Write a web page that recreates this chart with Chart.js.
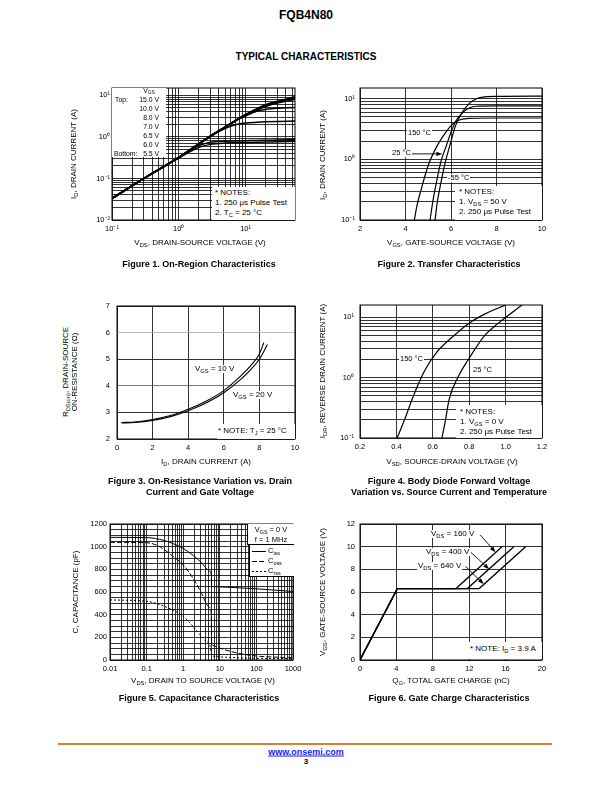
<!DOCTYPE html>
<html>
<head>
<meta charset="utf-8">
<script src="https://cdn.jsdelivr.net/npm/chart.js@4.4.0/dist/chart.umd.min.js"></script>
<style>
body { margin: 0; width: 612px; height: 792px; position: relative; background: #fff; color: #000;
       font-family: "Liberation Sans", Arial, Helvetica, sans-serif; overflow: hidden; }
canvas { position: absolute; }
.t { position: absolute; white-space: nowrap; font-size: 7.5px; line-height: 1; transform: translate(-50%, -50%); }
.ax { font-size: 8px; }
.l { transform: translate(0, -50%); }
.rr { transform: translate(-100%, -50%); }
.rot { transform: translate(-50%, -50%) rotate(-90deg); }
.b { font-weight: bold; }
.cap { font-weight: bold; font-size: 9px; text-align: center; line-height: 11px; }
.w { background: #fff; padding: 0 1px; }
.box { position: absolute; background: #fff; }
.sm { font-size: 6.8px; }
sub { font-size: 72%; vertical-align: -0.3em; line-height: 0; }
.seg { position: absolute; height: 1px; width: 14px; }
</style>
</head>
<body>
<canvas id="fig1"></canvas>
<canvas id="fig2"></canvas>
<canvas id="fig3"></canvas>
<canvas id="fig4"></canvas>
<canvas id="fig5"></canvas>
<canvas id="fig6"></canvas>

<!-- page header -->
<div class="t b" style="left:306px;top:15px;font-size:12px">FQB4N80</div>
<div class="t b" style="left:306px;top:57px;font-size:10px">TYPICAL CHARACTERISTICS</div>

<!-- figure 1 -->
<div class="box" style="left:112px;top:88px;width:54px;height:69px"></div>
<div class="t sm" style="left:149px;top:91px">V<sub>GS</sub></div>
<div class="t l sm" style="left:115px;top:100px">Top:</div>
<div class="t rr sm" style="left:159px;top:100px">15.0 V</div>
<div class="t rr sm" style="left:159px;top:109px">10.0 V</div>
<div class="t rr sm" style="left:159px;top:117.5px">8.0 V</div>
<div class="t rr sm" style="left:159px;top:126.5px">7.0 V</div>
<div class="t rr sm" style="left:159px;top:135.5px">6.5 V</div>
<div class="t rr sm" style="left:159px;top:144.5px">6.0 V</div>
<div class="t l sm" style="left:114px;top:153.5px">Bottom:</div>
<div class="t rr sm" style="left:159px;top:153.5px">5.5 V</div>
<div class="box" style="left:212px;top:187px;width:83px;height:33px"></div>
<div class="t l ax" style="left:215px;top:193px">* NOTES:</div>
<div class="t l ax" style="left:215px;top:203px">1. 250 μs Pulse Test</div>
<div class="t l ax" style="left:215px;top:213px">2. T<sub>C</sub> = 25 °C</div>
<div class="t rot ax" style="left:74px;top:154px">I<sub>D</sub>, DRAIN CURRENT (A)</div>
<div class="t ax" style="left:200px;top:243px">V<sub>DS</sub>, DRAIN-SOURCE VOLTAGE (V)</div>
<div class="t cap" style="left:199px;top:264px">Figure 1. On-Region Characteristics</div>

<!-- figure 2 -->
<div class="t l w" style="left:407px;top:133px">150 °C</div>
<div class="t l w" style="left:391px;top:153px">25 °C</div>
<div class="t l w" style="left:447px;top:178px">-55 °C</div>
<div class="box" style="left:455px;top:186px;width:87px;height:34px"></div>
<div class="t l ax" style="left:459px;top:192px">* NOTES:</div>
<div class="t l ax" style="left:459px;top:202px">1. V<sub>DS</sub> = 50 V</div>
<div class="t l ax" style="left:459px;top:212px">2. 250 μs Pulse Test</div>
<div class="t rot ax" style="left:323px;top:155px">I<sub>D</sub>, DRAIN CURRENT (A)</div>
<div class="t ax" style="left:451px;top:243px">V<sub>GS</sub>, GATE-SOURCE VOLTAGE (V)</div>
<div class="t cap" style="left:449px;top:264px">Figure 2. Transfer Characteristics</div>

<!-- figure 3 -->
<div class="t l w ax" style="left:194px;top:369px">V<sub>GS</sub> = 10 V</div>
<div class="t l w ax" style="left:232px;top:395px">V<sub>GS</sub> = 20 V</div>
<div class="box" style="left:217px;top:424px;width:78px;height:15px"></div>
<div class="t l ax" style="left:218px;top:431px">* NOTE: T<sub>J</sub> = 25 °C</div>
<div class="t rot ax" style="left:66px;top:372px">R<sub>DS(on)</sub>, DRAIN-SOURCE</div>
<div class="t rot ax" style="left:75px;top:372px">ON-RESISTANCE (Ω)</div>
<div class="t ax" style="left:206px;top:462px">I<sub>D</sub>, DRAIN CURRENT (A)</div>
<div class="t cap" style="left:200px;top:487px">Figure 3. On-Resistance Variation vs. Drain<br>Current and Gate Voltage</div>

<!-- figure 4 -->
<div class="t l w" style="left:399px;top:359px">150 °C</div>
<div class="t l w" style="left:472px;top:370px">25 °C</div>
<div class="box" style="left:456px;top:405px;width:86px;height:33px"></div>
<div class="t l ax" style="left:460px;top:412px">* NOTES:</div>
<div class="t l ax" style="left:460px;top:422px">1. V<sub>GS</sub> = 0 V</div>
<div class="t l ax" style="left:460px;top:432px">2. 250 μs Pulse Test</div>
<div class="t rot ax" style="left:323px;top:371px">I<sub>DR</sub>, REVERSE DRAIN CURRENT (A)</div>
<div class="t ax" style="left:452px;top:462px">V<sub>SD</sub>, SOURCE-DRAIN VOLTAGE (V)</div>
<div class="t cap" style="left:449px;top:487px">Figure 4. Body Diode Forward Voltage<br>Variation vs. Source Current and Temperature</div>

<!-- figure 5 -->
<div class="box" style="left:247px;top:524px;width:46px;height:20px;border-left:0.8px solid #000;border-bottom:0.8px solid #000"></div>
<div class="t" style="left:271px;top:530px">V<sub>GS</sub> = 0 V</div>
<div class="t" style="left:271px;top:540px">f = 1 MHz</div>
<div class="box" style="left:249px;top:545px;width:44px;height:31px;border-left:0.8px solid #000;border-bottom:0.8px solid #000"></div>
<div class="seg" style="left:252px;top:551px;background:#000"></div>
<div class="seg" style="left:252px;top:561px;background:repeating-linear-gradient(90deg,#000 0 5px,transparent 5px 7px)"></div>
<div class="seg" style="left:252px;top:571px;background:repeating-linear-gradient(90deg,#000 0 2px,transparent 2px 4px)"></div>
<div class="t l" style="left:268px;top:551px">C<sub>iss</sub></div>
<div class="t l" style="left:268px;top:561px">C<sub>oss</sub></div>
<div class="t l" style="left:268px;top:571px">C<sub>rss</sub></div>
<div class="t rot ax" style="left:76px;top:592px">C, CAPACITANCE (pF)</div>
<div class="t ax" style="left:203px;top:681px">V<sub>DS</sub>, DRAIN TO SOURCE VOLTAGE (V)</div>
<div class="t cap" style="left:199px;top:698px">Figure 5. Capacitance Characteristics</div>

<!-- figure 6 -->
<div class="t l w ax" style="left:430px;top:533.5px">V<sub>DS</sub> = 160 V</div>
<div class="t l w ax" style="left:425px;top:552px">V<sub>DS</sub> = 400 V</div>
<div class="t l w ax" style="left:417px;top:566px">V<sub>DS</sub> = 640 V</div>
<div class="box" style="left:466px;top:642px;width:76px;height:17px"></div>
<div class="t l ax" style="left:470px;top:649px">* NOTE: I<sub>D</sub> = 3.9 A</div>
<div class="t rot ax" style="left:323px;top:592px">V<sub>GS</sub>, GATE-SOURCE VOLTAGE (V)</div>
<div class="t ax" style="left:451px;top:681px">Q<sub>G</sub>, TOTAL GATE CHARGE (nC)</div>
<div class="t cap" style="left:449px;top:698px">Figure 6. Gate Charge Characteristics</div>

<!-- footer -->
<div style="position:absolute;left:58px;top:743px;width:494px;height:2px;background:#d9822b"></div>
<div class="t b" style="left:306px;top:752px;font-size:9px;color:#1a1aff;text-decoration:underline">www.onsemi.com</div>
<div class="t b" style="left:306px;top:762px;font-size:8px">3</div>

<script>
// Figure 1 - on-region characteristics, ID vs VDS for each VGS
const f1Vds   = [0.1, 0.3, 1, 2, 3, 5, 7, 10, 15, 20, 30, 55];
const f1Id15  = [0.033, 0.1, 0.32, 0.68, 1.05, 1.75, 2.45, 3.45, 4.8, 5.9, 7.2, 9.2];
const f1Id10  = [0.033, 0.1, 0.32, 0.68, 1.05, 1.75, 2.45, 3.4, 4.7, 5.7, 6.9, 8.7];
const f1Id8   = [0.033, 0.1, 0.32, 0.68, 1.05, 1.75, 2.4, 3.3, 4.5, 5.4, 6.5, 8.0];
const f1Id7   = [0.033, 0.1, 0.32, 0.68, 1.05, 1.75, 2.4, 3.2, 4.2, 4.6, 4.9, 5.1];
const f1Id65  = [0.033, 0.1, 0.32, 0.68, 1.03, 1.6, 1.95, 2.15, 2.25, 2.3, 2.35, 2.4];
const f1Id6   = [0.033, 0.1, 0.32, 0.62, 0.74, 0.79, 0.8, 0.81, 0.82, 0.83, 0.84, 0.86];
const f1Id55  = [0.033, 0.1, 0.31, 0.56, 0.66, 0.71, 0.72, 0.73, 0.74, 0.75, 0.76, 0.78];

// Figure 2 - transfer characteristics
const f2Vgs150 = [4.39, 4.5, 4.7, 5.0, 5.4, 5.8, 6.1, 6.4, 6.8, 8, 10];
const f2Id150  = [0.1, 0.17, 0.33, 0.8, 1.7, 2.9, 3.9, 4.5, 4.75, 4.8, 4.8];
const f2Vgs25  = [5.08, 5.2, 5.35, 5.55, 5.8, 6.0, 6.2, 6.5, 6.8, 7.1, 8, 10];
const f2Id25   = [0.1, 0.2, 0.4, 0.9, 1.7, 2.8, 4.2, 5.8, 7.0, 7.5, 7.6, 7.6];
const f2VgsM55 = [5.3, 5.4, 5.55, 5.75, 5.95, 6.2, 6.5, 6.8, 7.1, 7.4, 8, 10];
const f2IdM55  = [0.1, 0.2, 0.4, 0.9, 1.7, 3.6, 6.0, 8.3, 9.9, 10.6, 10.9, 11];
const f2Arrow  = [[3.98, 1.23], [5.62, 1.23]];

// Figure 3 - on-resistance vs drain current
const f3Id10  = [0.25, 1, 2, 3, 4, 5, 6, 7, 7.5, 8, 8.25];
const f3Rds10 = [2.62, 2.64, 2.73, 2.88, 3.12, 3.42, 3.82, 4.4, 4.75, 5.2, 5.62];
const f3Id20  = [0.25, 1, 2, 3, 4, 5, 6, 7, 7.5, 8, 8.45];
const f3Rds20 = [2.6, 2.62, 2.7, 2.84, 3.06, 3.35, 3.74, 4.27, 4.6, 5.0, 5.55];

// Figure 4 - body diode forward voltage
const f4Vsd150 = [0.404, 0.45, 0.49, 0.555, 0.62, 0.7, 0.8, 0.89, 1.0];
const f4Idr150 = [0.1, 0.22, 0.47, 1.3, 2.6, 4.5, 8.0, 11.5, 16];
const f4Vsd25  = [0.65, 0.67, 0.69, 0.737, 0.8, 0.88, 0.96, 1.09];
const f4Idr25  = [0.1, 0.2, 0.44, 1.0, 2.1, 4.8, 8.0, 16];

// Figure 5 - capacitance
const f5VCiss = [0.01, 0.1, 0.3, 0.5, 1, 2, 3, 5, 5.9, 6.0, 6.5, 10, 30, 100, 300, 1000];
const f5Ciss  = [1082, 1080, 1055, 1030, 985, 915, 865, 790, 745, 655, 648, 645, 638, 628, 617, 605];
const f5VCoss = [0.01, 0.1, 0.2, 0.3, 0.5, 1, 2, 3, 5, 5.8, 6.0, 6.5, 10, 30, 100, 300, 1000];
const f5Coss  = [1038, 1035, 1010, 975, 920, 840, 705, 605, 470, 420, 160, 130, 105, 62, 35, 26, 20];
const f5VCrss = [0.01, 0.1, 0.3, 1, 2, 4, 5.5, 6.0, 6.5, 10, 30, 100, 1000];
const f5Crss  = [530, 518, 475, 385, 285, 170, 120, 45, 35, 28, 20, 15, 12];

// Figure 6 - gate charge
const f6Qg160 = [0, 4.1, 10.55, 15.6];
const f6Qg400 = [0, 4.1, 11.8, 16.9];
const f6Qg640 = [0, 4.1, 13.1, 18.2];
const f6Vgs   = [0, 6.3, 6.3, 10];
const f6Arrows = [
  [[13.2, 11.05], [14.9, 9.5]],
  [[12.2, 9.5], [14.2, 8.0]],
  [[11.6, 8.25], [13.6, 6.7]]
];

// tick labels
const logMults = [1, 2, 3, 4, 5, 6, 7, 8, 9];
const powLabels = {'-2': '10⁻²', '-1': '10⁻¹', '0': '10⁰', '1': '10¹'};
const plainLabels = {'-2': '0.01', '-1': '0.1', '0': '1', '1': '10', '2': '100', '3': '1000'};

Chart.defaults.font.family = '"Liberation Sans", Arial, sans-serif';
Chart.defaults.font.size = 7.5;
Chart.defaults.color = '#000';

const PAD = {l: 40, t: 12, r: 14, b: 20};

function pts(xs, ys) {
  return xs.map((x, i) => ({x: x, y: ys[i]}));
}

function curve(xs, ys, width, dash, straight) {
  return {
    data: pts(xs, ys), borderColor: '#000', borderWidth: width, borderDash: dash || [],
    pointRadius: 0, fill: false,
    cubicInterpolationMode: straight ? 'default' : 'monotone', tension: 0
  };
}

function logTickValues(min, max) {
  const out = [];
  for (let e = Math.floor(Math.log10(min)); e <= Math.ceil(Math.log10(max)); e++) {
    logMults.forEach(m => {
      const v = +(m * Math.pow(10, e)).toPrecision(6);
      if (v >= min * 0.999 && v <= max * 1.001) out.push(v);
    });
  }
  return out;
}

function grid(color) {
  return {color: color || '#000', lineWidth: 0.8, drawTicks: false};
}

function logAxis(min, max, labels, pad) {
  return {
    type: 'logarithmic', min: min, max: max,
    afterBuildTicks: s => { s.ticks = logTickValues(min, max).map(v => ({value: v})); },
    ticks: {
      autoSkip: false, maxRotation: 0, minRotation: 0, padding: pad,
      callback: v => {
        const e = Math.log10(v), r = Math.round(e);
        return Math.abs(e - r) < 1e-6 ? (labels[r] || '') : '';
      }
    },
    grid: grid(), border: {display: false}
  };
}

function linAxis(min, max, step, fmt, pad, gridColor) {
  return {
    type: 'linear', min: min, max: max,
    ticks: {stepSize: step, autoSkip: false, maxRotation: 0, minRotation: 0, padding: pad, callback: fmt},
    grid: grid(gridColor), border: {display: false}
  };
}

const frame = {
  id: 'frame',
  afterDraw(chart) {
    const a = chart.chartArea, ctx = chart.ctx;
    ctx.save();
    ctx.strokeStyle = '#000';
    ctx.lineWidth = 1;
    ctx.strokeRect(a.left, a.top, a.right - a.left, a.bottom - a.top);
    ctx.restore();
  }
};

function arrowPlugin(list) {
  return {
    id: 'arrows',
    afterDatasetsDraw(chart) {
      const ctx = chart.ctx, sx = chart.scales.x, sy = chart.scales.y;
      list.forEach(a => {
        const x1 = sx.getPixelForValue(a[0][0]), y1 = sy.getPixelForValue(a[0][1]);
        const x2 = sx.getPixelForValue(a[1][0]), y2 = sy.getPixelForValue(a[1][1]);
        const ang = Math.atan2(y2 - y1, x2 - x1), c = Math.cos(ang), s = Math.sin(ang);
        ctx.save();
        ctx.strokeStyle = '#000';
        ctx.fillStyle = '#000';
        ctx.lineWidth = 0.9;
        ctx.beginPath();
        ctx.moveTo(x1, y1);
        ctx.lineTo(x2 - 4 * c, y2 - 4 * s);
        ctx.stroke();
        ctx.beginPath();
        ctx.moveTo(x2, y2);
        ctx.lineTo(x2 - 6 * c + 2.2 * s, y2 - 6 * s - 2.2 * c);
        ctx.lineTo(x2 - 6 * c - 2.2 * s, y2 - 6 * s + 2.2 * c);
        ctx.closePath();
        ctx.fill();
        ctx.restore();
      });
    }
  };
}

function mount(id, box, datasets, xAxis, yAxis, arrows) {
  const cv = document.getElementById(id);
  const w = box.r - box.l + PAD.l + PAD.r, h = box.b - box.t + PAD.t + PAD.b;
  cv.width = w; cv.height = h;
  cv.style.left = (box.l - PAD.l) + 'px';
  cv.style.top = (box.t - PAD.t) + 'px';
  cv.style.width = w + 'px';
  cv.style.height = h + 'px';
  xAxis.afterFit = s => { s.height = PAD.b; };
  yAxis.afterFit = s => { s.width = PAD.l; };
  return new Chart(cv, {
    type: 'line',
    data: {datasets: datasets},
    options: {
      responsive: false, animation: false,
      layout: {padding: {left: 0, top: PAD.t, right: PAD.r, bottom: 0}},
      plugins: {legend: {display: false}, tooltip: {enabled: false}},
      scales: {x: xAxis, y: yAxis}
    },
    plugins: [frame, arrowPlugin(arrows || [])]
  });
}

// Figure 1
mount('fig1', {l: 112, t: 88, r: 295, b: 220}, [
  curve(f1Vds, f1Id55, 1.5), curve(f1Vds, f1Id6, 1.5), curve(f1Vds, f1Id65, 1.5),
  curve(f1Vds, f1Id7, 1.5), curve(f1Vds, f1Id8, 1.5), curve(f1Vds, f1Id10, 1.8), curve(f1Vds, f1Id15, 1.8)
], logAxis(0.1, 55, powLabels, 4), logAxis(0.01, 15, powLabels, 2));

// Figure 2
mount('fig2', {l: 360, t: 88, r: 542, b: 220}, [
  curve(f2Vgs150, f2Id150, 1.2), curve(f2Vgs25, f2Id25, 1.2), curve(f2VgsM55, f2IdM55, 1.2)
], linAxis(2, 10, 2, v => v, 4), logAxis(0.1, 15, powLabels, 5), [f2Arrow]);

// Figure 3
mount('fig3', {l: 117, t: 306, r: 295, b: 439}, [
  curve(f3Id10, f3Rds10, 1.1), curve(f3Id20, f3Rds20, 1.1)
], linAxis(0, 10, 2, v => v, 4),
   linAxis(2, 7, 1, v => v, 7, c => (c.tick && c.tick.value === 6 ? '#aaa' : (c.tick && c.tick.value === 4 ? '#555' : '#000'))));

// Figure 4
mount('fig4', {l: 360, t: 305, r: 542, b: 438}, [
  curve(f4Vsd150, f4Idr150, 1.2), curve(f4Vsd25, f4Idr25, 1.2)
], linAxis(0.2, 1.2, 0.2, v => v.toFixed(1), 4), logAxis(0.1, 16, powLabels, 6));

// Figure 5
mount('fig5', {l: 110, t: 524, r: 293, b: 660}, [
  curve(f5VCiss, f5Ciss, 1), curve(f5VCoss, f5Coss, 1, [5, 2]), curve(f5VCrss, f5Crss, 1, [2, 2])
], logAxis(0.01, 1000, plainLabels, 4), linAxis(0, 1200, 50, v => (v % 200 === 0 ? v : ''), 3));

// Figure 6
mount('fig6', {l: 360, t: 524, r: 542, b: 660}, [
  curve(f6Qg160, f6Vgs, 1.3, null, true), curve(f6Qg400, f6Vgs, 1.3, null, true), curve(f6Qg640, f6Vgs, 1.3, null, true)
], linAxis(0, 20, 4, v => v, 4), linAxis(0, 12, 2, v => v, 5), f6Arrows);
</script>
</body>
</html>
